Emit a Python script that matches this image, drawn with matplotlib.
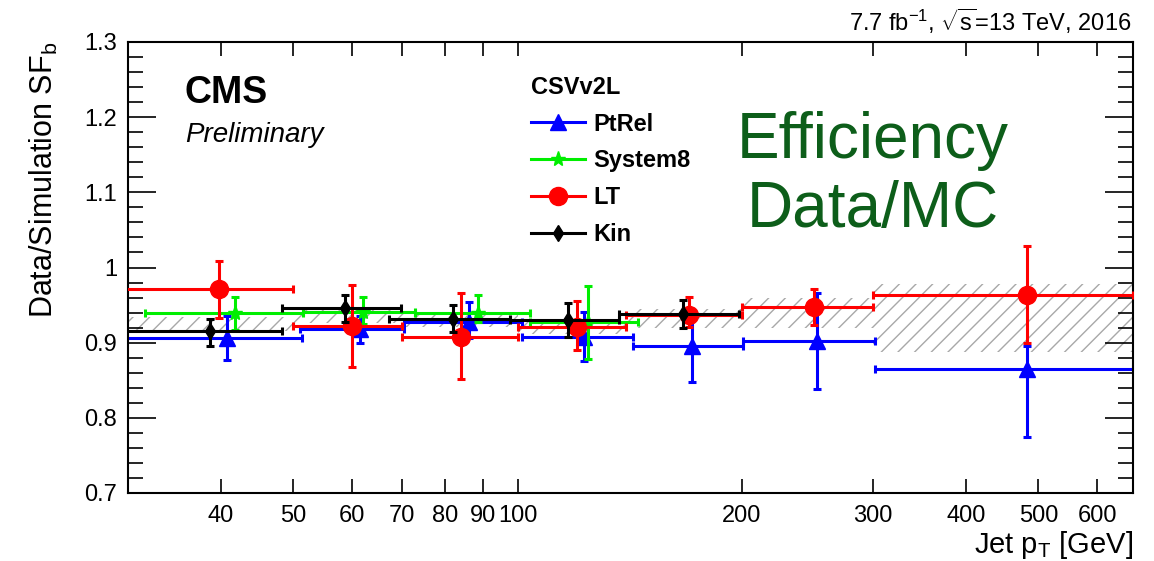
import matplotlib
matplotlib.use('Agg')
import numpy as np
import matplotlib.pyplot as plt
from matplotlib.lines import Line2D
from matplotlib.ticker import FixedLocator, MultipleLocator, FuncFormatter, NullLocator

plt.rcParams['font.family'] = ['Liberation Sans', 'DejaVu Sans']
plt.rcParams['mathtext.fontset'] = 'custom'
plt.rcParams['mathtext.rm'] = 'Liberation Sans'
plt.rcParams['mathtext.it'] = 'Liberation Sans:italic'
plt.rcParams['mathtext.bf'] = 'Liberation Sans:bold'
plt.rcParams['hatch.linewidth'] = 1.0

# combined SF band (hatched), per pT bin
bin_lo = [30, 50, 70, 100, 140, 200, 300]
bin_hi = [50, 70, 100, 140, 200, 300, 670]
band_lo = [0.916, 0.926, 0.921, 0.911, 0.920, 0.919, 0.888]
band_hi = [0.934, 0.946, 0.939, 0.930, 0.945, 0.959, 0.978]

# PtRel
ptrel_x = [40.8, 61.5, 86, 122.7, 171.5, 252, 483]
ptrel_xlo = [25, 51, 70.5, 101.5, 143, 201, 302]
ptrel_xhi = [51.3, 70.5, 101.5, 143, 201, 302, 670]
ptrel_y = [0.906, 0.918, 0.928, 0.907, 0.896, 0.902, 0.865]
ptrel_elo = [0.029, 0.018, 0.022, 0.032, 0.048, 0.064, 0.091]
ptrel_ehi = [0.029, 0.018, 0.026, 0.034, 0.048, 0.064, 0.030]

# System8
s8_x = [41.8, 62, 88.4, 124.3]
s8_xlo = [31.6, 51.6, 72.8, 104]
s8_xhi = [51.6, 72.8, 104, 145]
s8_y = [0.939, 0.941, 0.940, 0.928]
s8_elo = [0.022, 0.016, 0.013, 0.050]
s8_ehi = [0.022, 0.020, 0.023, 0.047]

# LT
lt_x = [39.7, 60, 84, 120, 170, 250, 483]
lt_xlo = [25, 50, 70, 100, 140, 200, 300]
lt_xhi = [50, 70, 100, 140, 200, 300, 670]
lt_y = [0.971, 0.922, 0.908, 0.921, 0.937, 0.948, 0.964]
lt_elo = [0.038, 0.055, 0.057, 0.031, 0.016, 0.025, 0.065]
lt_ehi = [0.038, 0.055, 0.058, 0.034, 0.024, 0.024, 0.065]

# Kin
kin_x = [38.7, 58.7, 82, 117, 167]
kin_xlo = [25, 48.3, 67.2, 97.6, 137]
kin_xhi = [48.3, 69.8, 97.6, 137, 198]
kin_y = [0.915, 0.946, 0.932, 0.930, 0.938]
kin_elo = [0.020, 0.018, 0.018, 0.023, 0.019]
kin_ehi = [0.016, 0.017, 0.018, 0.023, 0.019]

xticks = [40, 50, 60, 70, 80, 90, 100, 200, 300, 400, 500, 600]

W, H = 1154, 561
fig = plt.figure(figsize=(W / 100, H / 100), dpi=100)
ax = fig.add_axes([128 / W, 68 / H, 1005 / W, 451 / H])
ax.set_xscale('log')

# hatched band
lo = np.array(band_lo)
hi = np.array(band_hi)
ax.bar(bin_lo, hi - lo, width=np.array(bin_hi) - np.array(bin_lo), bottom=lo, align='edge',
       fill=False, hatch='//', edgecolor='#a8a8a8', linewidth=0, zorder=1)


def draw(x, xlo, xhi, y, elo, ehi, color, marker, ms, z):
    x = np.array(x)
    xerr = [x - np.array(xlo), np.array(xhi) - x]
    ax.errorbar(x, y, xerr=xerr, yerr=[elo, ehi], fmt=marker, color=color, ms=ms,
                elinewidth=2.2, capsize=3, capthick=2.2, zorder=z)


draw(ptrel_x, ptrel_xlo, ptrel_xhi, ptrel_y, ptrel_elo, ptrel_ehi, '#0000ff', '^', 11, 2)
draw(s8_x, s8_xlo, s8_xhi, s8_y, s8_elo, s8_ehi, '#00ee00', '*', 11, 3)
draw(lt_x, lt_xlo, lt_xhi, lt_y, lt_elo, lt_ehi, '#ff0000', 'o', 13, 4)
draw(kin_x, kin_xlo, kin_xhi, kin_y, kin_elo, kin_ehi, 'black', 'd', 8, 5)

ax.set_xlim(30, 670)
ax.set_ylim(0.7, 1.3)

ax.xaxis.set_major_locator(FixedLocator(xticks))
ax.xaxis.set_minor_locator(NullLocator())
ax.xaxis.set_major_formatter(FuncFormatter(lambda v, p: '%d' % v))
ax.yaxis.set_major_locator(MultipleLocator(0.1))
ax.yaxis.set_minor_locator(MultipleLocator(0.02))
ax.yaxis.set_major_formatter(FuncFormatter(lambda v, p: '1' if abs(v - 1) < 1e-6 else '%.1f' % v))

ax.tick_params(axis='x', which='major', direction='in', top=True, bottom=True,
               length=10, width=1.2, labelsize=17, pad=9)
ax.tick_params(axis='y', which='major', direction='in', left=True, right=True,
               length=20, width=1.2, labelsize=17, pad=8)
ax.tick_params(axis='y', which='minor', direction='in', left=True, right=True,
               length=11, width=1.2)
for s in ax.spines.values():
    s.set_linewidth(1.5)

ax.set_ylabel(r'Data/Simulation SF$_\mathrm{b}$', fontsize=22, loc='top')
ax.yaxis.set_label_coords(-0.068, 1.0)
ax.set_xlabel(r'Jet p$_\mathrm{T}$ [GeV]', fontsize=21, loc='right')
ax.xaxis.set_label_coords(1.0, -0.08)

# legend
handles = [
    Line2D([], [], color='#0000ff', marker='^', ms=11, lw=2.2),
    Line2D([], [], color='#00ee00', marker='*', ms=11, lw=2.2),
    Line2D([], [], color='#ff0000', marker='o', ms=13, lw=2.2),
    Line2D([], [], color='black', marker='d', ms=8, lw=2.2),
]
ax.legend(handles, ['PtRel', 'System8', 'LT', 'Kin'], title='CSVv2L',
          loc='upper left', bbox_to_anchor=(531 / W, 1 - 76 / H), bbox_transform=fig.transFigure,
          frameon=False, prop={'weight': 'bold', 'size': 17},
          title_fontproperties={'weight': 'bold', 'size': 17},
          handlelength=2.3, handletextpad=0.35, labelspacing=0.58, alignment='left',
          borderpad=0, borderaxespad=0)

# texts
fig.text(185 / W, 1 - 93 / H, 'CMS', fontsize=27, fontweight='bold', va='center')
fig.text(185 / W, 1 - 135 / H, 'Preliminary', fontsize=20, style='italic', va='center')
fig.text(873 / W, 1 - 141 / H, 'Efficiency', fontsize=46, color='#0d5e1a', ha='center', va='center')
fig.text(873 / W, 1 - 210 / H, 'Data/MC', fontsize=46, color='#0d5e1a', ha='center', va='center')
fig.text(1131 / W, 1 - 21 / H, r'7.7 fb$^{-1}$, $\sqrt{\mathrm{s}}$=13 TeV, 2016', fontsize=17,
         ha='right', va='center')

fig.savefig('out.png', dpi=100)
